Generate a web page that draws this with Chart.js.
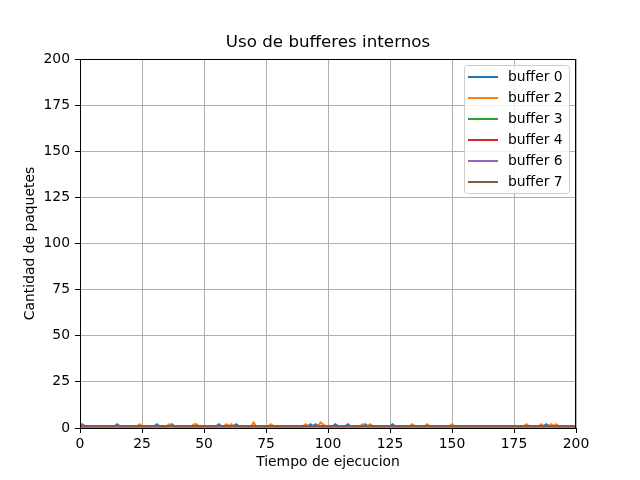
<!DOCTYPE html>
<html>
<head>
<meta charset="utf-8">
<script src="https://cdn.jsdelivr.net/npm/chart.js@4.4.1/dist/chart.umd.min.js"></script>
<style>
  html, body { margin: 0; padding: 0; background: #fff; }
  #caja { width: 640px; height: 480px; }
</style>
</head>
<body>
<div id="caja"><canvas id="grafico" width="640" height="480"></canvas></div>
<script>
// datos: cada serie queda en 1 paquete salvo en los picos
const tiempoInicio = 0;
const tiempoFin = 200;
const nivelBase = 1;
const ticksX = [0, 25, 50, 75, 100, 125, 150, 175, 200];
const ticksY = [0, 25, 50, 75, 100, 125, 150, 175, 200];
const nombresBuffers = ['buffer 0', 'buffer 2', 'buffer 3', 'buffer 4', 'buffer 6', 'buffer 7'];
const coloresBuffers = ['#1f77b4', '#ff7f0e', '#2ca02c', '#d62728', '#9467bd', '#8c564b'];

// picos [tiempo, paquetes]
const picosBuffer0 = [[15, 2], [31, 2], [37, 2], [56, 2], [63, 2], [93, 2], [95, 2],
                      [103, 2], [108, 2], [115, 2], [126, 2], [188, 2]];
const picosBuffer2 = [[24, 2], [36, 2], [46, 2], [47, 2], [59, 2], [61, 2], [70, 3], [77, 2],
                      [91, 2], [97, 3], [98, 2], [114, 2], [117, 2], [134, 2], [140, 2],
                      [150, 2], [180, 2], [186, 2], [190, 2], [192, 2]];
const picosBuffer3 = [];
const picosBuffer4 = [];
const picosBuffer6 = [[0, 2], [1, 2]];
const picosBuffer7 = [];

const picosPorBuffer = [picosBuffer0, picosBuffer2, picosBuffer3, picosBuffer4, picosBuffer6, picosBuffer7];

// arma la lista de puntos: base, pico, base
function armarSerie(picos) {
    const puntos = [];
    let ultimo = -Infinity;
    const agregar = (x, y) => {
        if (x < tiempoInicio || x > tiempoFin || x <= ultimo) return;
        puntos.push({ x, y });
        ultimo = x;
    };
    agregar(tiempoInicio, nivelBase);
    picos.forEach(([t, v], i) => {
        if (t === tiempoInicio && puntos.length) { puntos[0].y = v; return; }
        agregar(t - 1, nivelBase);
        agregar(t, v);
        const sig = picos[i + 1];
        if (!sig || sig[0] !== t + 1) agregar(t + 1, nivelBase);
    });
    agregar(tiempoFin, nivelBase);
    return puntos;
}

const fuente = 'DejaVu Sans';

const marcoYTitulo = {
    id: 'marcoYTitulo',
    afterDatasetsDraw(chart) {
        const { ctx, chartArea: a } = chart;
        ctx.save();
        ctx.strokeStyle = '#000';
        ctx.lineWidth = 1;
        ctx.strokeRect(a.left + 0.5, a.top + 0.5, a.right - a.left - 1, a.bottom - a.top);
        ctx.restore();
    },
    afterDraw(chart) {
        const { ctx, chartArea: a } = chart;
        ctx.save();
        // titulo
        ctx.fillStyle = '#000';
        ctx.font = '16.7px "' + fuente + '"';
        ctx.textAlign = 'center';
        ctx.textBaseline = 'middle';
        ctx.fillText('Uso de bufferes internos', (a.left + a.right) / 2, 43);

        // leyenda dentro del area
        const ancho = 105, alto = 128;
        const x0 = a.right - 7 - ancho, y0 = a.top + 6;
        ctx.beginPath();
        ctx.roundRect(x0 + 0.5, y0 + 0.5, ancho, alto, 3);
        ctx.fillStyle = 'rgba(255,255,255,0.8)';
        ctx.fill();
        ctx.strokeStyle = '#cccccc';
        ctx.lineWidth = 1;
        ctx.stroke();
        ctx.font = '13.9px "' + fuente + '"';
        ctx.textAlign = 'left';
        chart.data.datasets.forEach((ds, i) => {
            const y = y0 + 12 + i * 21;
            ctx.strokeStyle = ds.borderColor;
            ctx.lineWidth = 2;
            ctx.beginPath();
            ctx.moveTo(x0 + 4, y);
            ctx.lineTo(x0 + 34, y);
            ctx.stroke();
            ctx.fillStyle = '#000';
            ctx.fillText(ds.label, x0 + 44, y);
        });
        ctx.restore();
    }
};

new Chart(document.getElementById('grafico'), {
    type: 'line',
    data: {
        datasets: nombresBuffers.map((nombre, i) => ({
            label: nombre,
            data: armarSerie(picosPorBuffer[i]),
            borderColor: coloresBuffers[i],
            backgroundColor: coloresBuffers[i],
            borderWidth: 2,
            pointRadius: 0,
            tension: 0,
            fill: false,
            order: nombresBuffers.length - i // el ultimo queda arriba
        }))
    },
    options: {
        responsive: false,
        animation: false,
        devicePixelRatio: 1,
        layout: { padding: { top: 59, right: 64, left: 0, bottom: 0 } },
        plugins: {
            legend: { display: false },
            title: { display: false },
            tooltip: { enabled: false }
        },
        scales: {
            x: {
                type: 'linear',
                min: tiempoInicio,
                max: tiempoFin,
                afterBuildTicks: (s) => { s.ticks = ticksX.map(v => ({ value: v })); },
                afterFit: (s) => { s.height = 52; },
                ticks: { color: '#000', font: { family: fuente, size: 13.9 }, padding: 3, maxRotation: 0 },
                grid: { color: '#b0b0b0', lineWidth: 1, tickColor: '#000', tickLength: 5 },
                border: { color: '#000', width: 1 },
                title: {
                    display: true,
                    text: 'Tiempo de ejecucion',
                    color: '#000',
                    font: { family: fuente, size: 13.9 },
                    padding: { top: 0, bottom: 9 }
                }
            },
            y: {
                type: 'linear',
                min: 0,
                max: 200,
                afterBuildTicks: (s) => { s.ticks = ticksY.map(v => ({ value: v })); },
                afterFit: (s) => { s.width = 80; },
                ticks: { color: '#000', font: { family: fuente, size: 13.9 }, padding: 5 },
                grid: { color: '#b0b0b0', lineWidth: 1, tickColor: '#000', tickLength: 5 },
                border: { color: '#000', width: 1 },
                title: {
                    display: true,
                    text: 'Cantidad de paquetes',
                    color: '#000',
                    font: { family: fuente, size: 13.9 },
                    padding: { top: 22, bottom: 0 }
                }
            }
        }
    },
    plugins: [marcoYTitulo]
});
</script>
</body>
</html>
